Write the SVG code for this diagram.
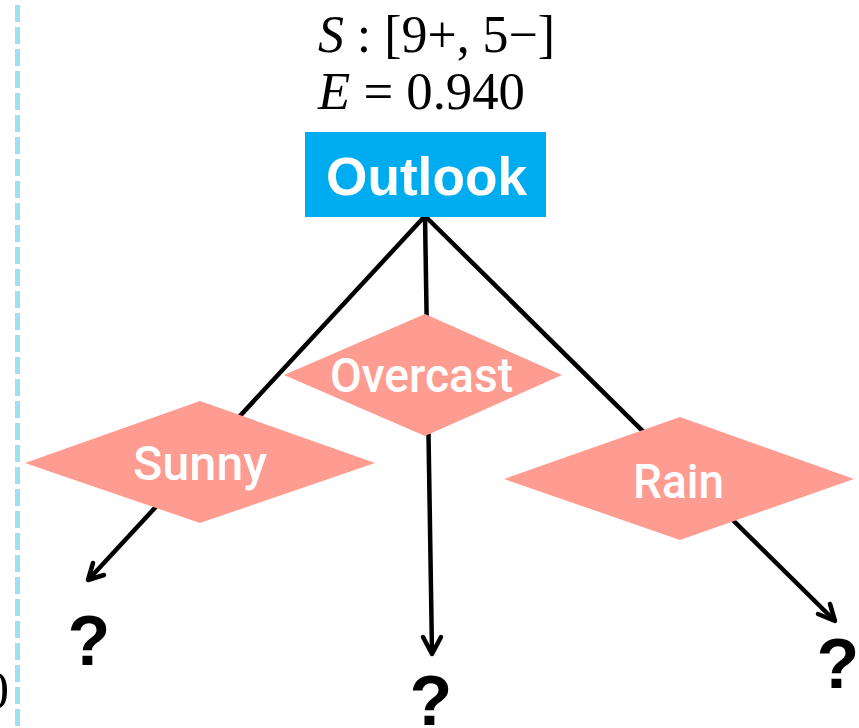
<svg xmlns="http://www.w3.org/2000/svg" width="859" height="728" viewBox="0 0 859 728">
  <style>
    .math { font-family: "Liberation Serif", "DejaVu Serif", serif; font-size: 52px; fill: #000; }
    .it { font-style: italic; }
    .dlabel { font-family: Roboto, "Liberation Sans", sans-serif; font-size: 48px; font-weight: 500; fill: #fff; text-anchor: middle; }
    .diamond { fill: #ff9c91; }
    .edge { stroke: #000; stroke-width: 4.5; fill: none; }
    .head { stroke: #000; stroke-width: 4.5; fill: none; stroke-linecap: round; stroke-linejoin: round; }
    .q { font-family: "Liberation Sans", Arial, sans-serif; font-weight: bold; font-size: 70px; fill: #000; text-anchor: middle; }
  </style>
  <rect width="859" height="728" fill="#fff"/>
  <line x1="17.5" y1="5" x2="17.5" y2="728" stroke="#9fe0f2" stroke-width="5" stroke-dasharray="17 5"/>
  <text class="math" x="-17" y="708">0</text>

  <g id="connectors">
    <line class="edge" x1="425" y1="216" x2="90" y2="578"/>
    <polyline class="head" points="93,563 88,580 104,575"/>
    <line class="edge" x1="425" y1="216" x2="432" y2="652"/>
    <polyline class="head" points="423,637 432,654 441,637"/>
    <line class="edge" x1="425" y1="216" x2="833" y2="619"/>
    <polyline class="head" points="818,614 835,621 830,604"/>
  </g>

  <g id="header">
    <text class="math" x="318" y="52" textLength="237" lengthAdjust="spacingAndGlyphs"><tspan class="it">S</tspan> : [9+, 5−]</text>
    <text class="math" x="318" y="109" textLength="207" lengthAdjust="spacingAndGlyphs"><tspan class="it">E</tspan> = 0.940</text>
  </g>

  <g id="outlook">
    <rect x="305" y="132" width="241" height="85" fill="#00acf0"/>
    <text x="426.5" y="195" font-family="Liberation Sans, Arial, sans-serif" font-weight="bold" font-size="53" fill="#fff" text-anchor="middle" textLength="201" lengthAdjust="spacingAndGlyphs">Outlook</text>
  </g>

  <g id="sunny">
    <polygon class="diamond" points="25,463 200,401 375,463 200,523"/>
    <text class="dlabel" x="200" y="480" textLength="134" lengthAdjust="spacingAndGlyphs">Sunny</text>
  </g>
  <g id="overcast">
    <polygon class="diamond" points="284,375 425,314 562,375 425,436"/>
    <text class="dlabel" x="421.5" y="392" textLength="183" lengthAdjust="spacingAndGlyphs">Overcast</text>
  </g>
  <g id="rain">
    <polygon class="diamond" points="504,479 680,417 854,479 680,540"/>
    <text class="dlabel" x="678.5" y="498" textLength="91" lengthAdjust="spacingAndGlyphs">Rain</text>
  </g>

  <g id="q1"><text class="q" x="89" y="665">?</text></g>
  <g id="q2"><text class="q" x="431" y="725">?</text></g>
  <g id="q3"><text class="q" x="838" y="688">?</text></g>
</svg>
